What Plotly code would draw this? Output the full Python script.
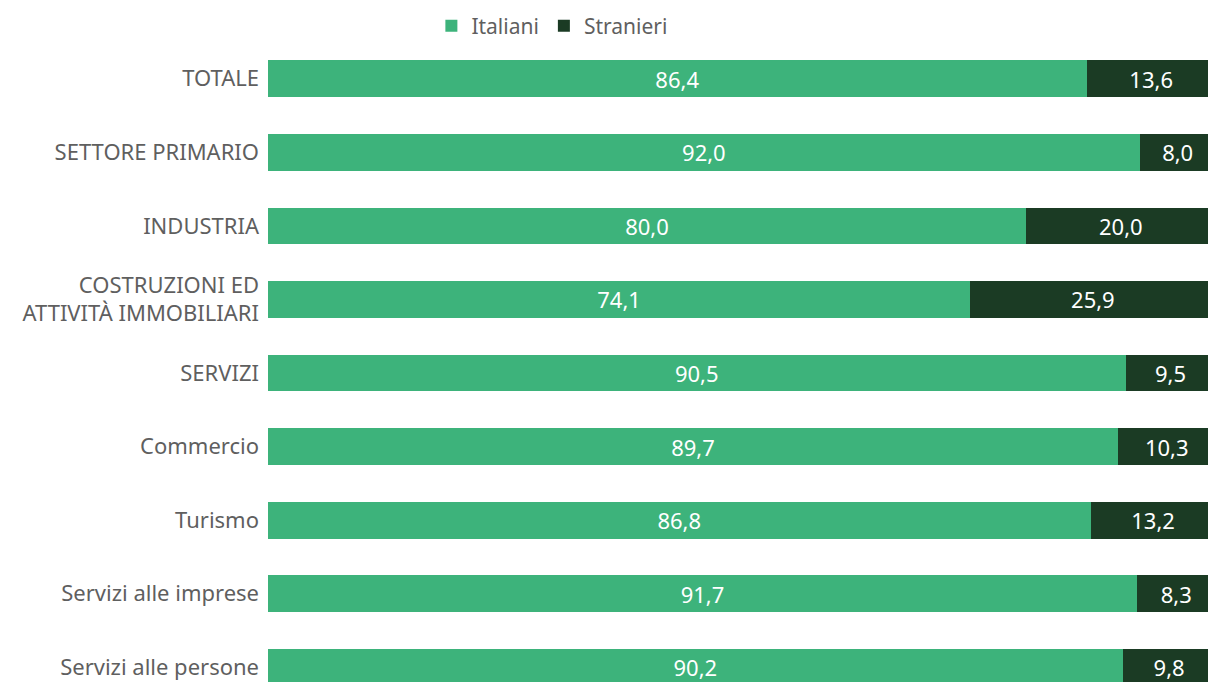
import plotly.graph_objects as go

categories = ["TOTALE", "SETTORE PRIMARIO", "INDUSTRIA", "COSTRUZIONI ED<br>ATTIVITÀ IMMOBILIARI",
              "SERVIZI", "Commercio", "Turismo", "Servizi alle imprese", "Servizi alle persone"]
italiani = [86.4, 92.0, 80.0, 74.1, 90.5, 89.7, 86.8, 91.7, 90.2]
stranieri = [13.6, 8.0, 20.0, 25.9, 9.5, 10.3, 13.2, 8.3, 9.8]

GREEN = "#3DB37B"
DARK = "#1B3B24"
FONT = "Noto Sans, Open Sans, sans-serif"
GREY = "#5f5f5f"

fig = go.Figure()
fig.add_trace(go.Bar(
    y=categories, x=italiani, name="Italiani", orientation="h",
    marker=dict(color=GREEN, line=dict(width=0)),
    texttemplate="%{x:.1f}",
    textposition="inside", insidetextanchor="middle",
    textfont=dict(color="white", size=22, family=FONT),
))
fig.add_trace(go.Bar(
    y=categories, x=stranieri, name="Stranieri", orientation="h",
    marker=dict(color=DARK, line=dict(width=0)),
    texttemplate="%{x:.1f}",
    textposition="inside", insidetextanchor="middle",
    textfont=dict(color="white", size=22, family=FONT),
))

fig.update_layout(
    barmode="stack", bargap=0.5,
    width=1208, height=682,
    margin=dict(l=268, r=0, t=42, b=0),
    paper_bgcolor="white", plot_bgcolor="white",
    separators=",.",
    font=dict(family=FONT, color=GREY, size=20),
    uniformtext=dict(mode="show", minsize=22),
    legend=dict(orientation="h", x=0.302, xanchor="center", y=1.025, yanchor="middle",
                font=dict(size=21, color=GREY, family=FONT),
                traceorder="normal", itemwidth=30),
    xaxis=dict(range=[0, 99.2], visible=False, fixedrange=True),
    yaxis=dict(type="category", categoryorder="array", categoryarray=categories,
               range=[8.2, -0.5], showgrid=False, zeroline=False, showline=False,
               ticks="", ticklabelstandoff=8,
               tickfont=dict(size=22, color=GREY, family=FONT)),
    showlegend=True,
)

fig.write_html("out.html", config={"displayModeBar": False},
               post_script="document.body.style.margin='0';document.body.style.padding='0';")
